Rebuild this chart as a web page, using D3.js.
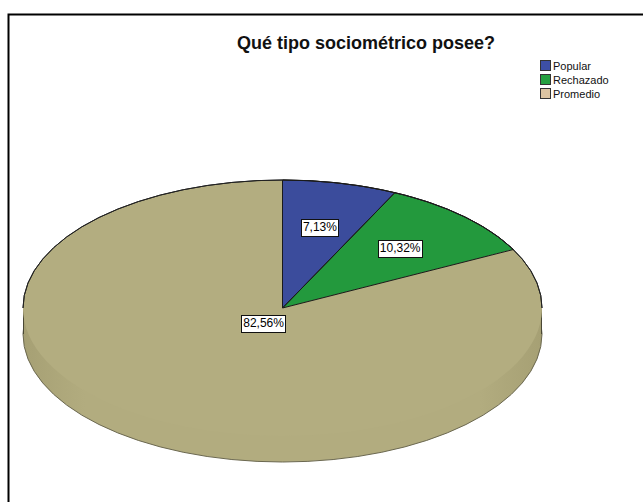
<!DOCTYPE html>
<html>
<head>
<meta charset="utf-8">
<script src="https://cdn.jsdelivr.net/npm/d3@7/dist/d3.min.js"></script>
<style>
  html, body { margin: 0; padding: 0; background: #fff; }
  svg { display: block; }
</style>
</head>
<body>
<svg id="chart" width="643" height="502"></svg>
<script>
// ---- data ----
const categories = ["Popular", "Rechazado", "Promedio"];
const percentages = [7.13, 10.32, 82.56];
const labels = ["7,13%", "10,32%", "82,56%"];
const colors = ["#3b4c9c", "#23993d", "#b3ad80"];
const legendSwatch = ["#3d4fa6", "#25a040", "#dcc4a2"];
const title = "Qué tipo sociométrico posee?";

// ---- layout ----
const W = 643, H = 502;
const cx = 282.5, cy = 308, rx = 259.5, ry = 128, depth = 26;
const labelFactor = [0.65, 0.65, 0.14];

const svg = d3.select("#chart");

// frame (only left and top visible)
svg.append("path")
  .attr("d", `M8.5,${H} L8.5,14.5 L${W},14.5`)
  .attr("fill", "none").attr("stroke", "#000").attr("stroke-width", 2);

// title
svg.append("text")
  .attr("x", 366).attr("y", 49)
  .attr("text-anchor", "middle")
  .attr("font-family", "Arial, 'Liberation Sans', sans-serif")
  .attr("font-weight", "bold").attr("font-size", 18)
  .attr("fill", "#111")
  .text(title);

// pie
const pie = d3.pie().sort(null).value(d => d).startAngle(0).endAngle(2 * Math.PI);
const arcs = pie(percentages);
const arc = d3.arc().innerRadius(0).outerRadius(rx);
const sy = ry / rx;

const defs = svg.append("defs");
const grad = defs.append("linearGradient").attr("id", "side")
  .attr("x1", 0).attr("x2", 1).attr("y1", 0).attr("y2", 0);
grad.append("stop").attr("offset", "0%").attr("stop-color", "#a6a074");
grad.append("stop").attr("offset", "12%").attr("stop-color", "#b2ac7f");
grad.append("stop").attr("offset", "88%").attr("stop-color", "#b2ac7f");
grad.append("stop").attr("offset", "100%").attr("stop-color", "#a6a074");

// bottom layer
const gBottom = svg.append("g").attr("transform", `translate(${cx},${cy + depth}) scale(1,${sy})`);
gBottom.append("ellipse").attr("cx", 0).attr("cy", 0).attr("rx", rx).attr("ry", rx)
  .attr("fill", "url(#side)").attr("stroke", "#6b6850").attr("stroke-width", 1)
  .attr("vector-effect", "non-scaling-stroke");
svg.append("rect")
  .attr("x", cx - rx).attr("y", cy).attr("width", 2 * rx).attr("height", depth)
  .attr("fill", "url(#side)");
svg.append("line").attr("x1", cx - rx + 0.5).attr("x2", cx - rx + 0.5).attr("y1", cy).attr("y2", cy + depth)
  .attr("stroke", "#4a4835").attr("stroke-width", 1);
svg.append("line").attr("x1", cx + rx - 0.5).attr("x2", cx + rx - 0.5).attr("y1", cy).attr("y2", cy + depth)
  .attr("stroke", "#4a4835").attr("stroke-width", 1);

// top layer
const gTop = svg.append("g").attr("transform", `translate(${cx},${cy}) scale(1,${sy})`);
gTop.selectAll("path.slice").data(arcs).enter().append("path")
  .attr("class", "slice")
  .attr("d", arc)
  .attr("fill", (d, i) => colors[i])
  .attr("stroke", "none");
// outline of the top face (back half)
const outline = d3.arc().innerRadius(rx).outerRadius(rx).startAngle(-Math.PI / 2).endAngle(Math.PI / 2);
gTop.append("path").attr("d", outline()).attr("fill", "none")
  .attr("stroke", "#222").attr("stroke-width", 1).attr("vector-effect", "non-scaling-stroke");
// slice outlines for popular and rechazado
gTop.selectAll("path.radius").data(arcs.slice(0, 2)).enter().append("path")
  .attr("class", "radius")
  .attr("d", arc)
  .attr("fill", "none").attr("stroke", "#1a1a1a").attr("stroke-width", 1)
  .attr("vector-effect", "non-scaling-stroke");

// labels
const lg = svg.append("g");
arcs.forEach((d, i) => {
  const a = (d.startAngle + d.endAngle) / 2;
  const x = cx + rx * labelFactor[i] * Math.sin(a);
  const y = cy - ry * labelFactor[i] * Math.cos(a);
  const t = lg.append("text")
    .attr("x", x).attr("y", y + 4)
    .attr("text-anchor", "middle")
    .attr("font-family", "Arial, 'Liberation Sans', sans-serif")
    .attr("font-size", 12).attr("fill", "#000")
    .text(labels[i]);
  const bb = t.node().getBBox();
  lg.insert("rect", "text")
    .attr("x", Math.round(bb.x - 2) + 0.5).attr("y", Math.round(y - 8) + 0.5)
    .attr("width", Math.round(bb.width + 3)).attr("height", 17)
    .attr("fill", "#fff").attr("stroke", "#111").attr("stroke-width", 1);
});

// legend
const leg = svg.append("g").attr("transform", "translate(540,60)");
categories.forEach((c, i) => {
  const g = leg.append("g").attr("transform", `translate(0,${i * 14})`);
  g.append("rect").attr("x", 0.5).attr("y", 0.5).attr("width", 10).attr("height", 10)
    .attr("fill", legendSwatch[i]).attr("stroke", "#333").attr("stroke-width", 1);
  g.append("text").attr("x", 13).attr("y", 10)
    .attr("font-family", "Arial, 'Liberation Sans', sans-serif")
    .attr("font-size", 11).attr("fill", "#111")
    .text(c);
});
</script>
</body>
</html>
